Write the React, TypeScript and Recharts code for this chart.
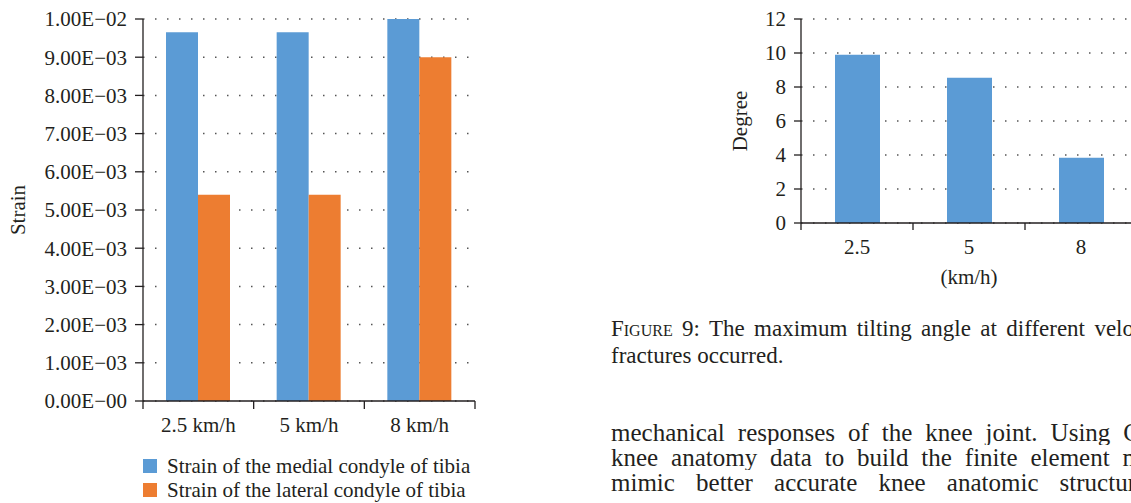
import React from 'react';
import { BarChart, Bar, XAxis, YAxis, CartesianGrid, Legend, Label } from 'recharts';

// ---------- data ----------
const strainCategories = ['2.5 km/h', '5 km/h', '8 km/h'];
const medialStrain = [9.65e-3, 9.65e-3, 1.0e-2];
const lateralStrain = [5.4e-3, 5.4e-3, 9.0e-3];
const strainSeriesNames = ['Strain of the medial condyle of tibia', 'Strain of the lateral condyle of tibia'];
const strainTicks = [0, 0.001, 0.002, 0.003, 0.004, 0.005, 0.006, 0.007, 0.008, 0.009, 0.01];

const angleCategories = ['2.5', '5', '8'];
const tiltAngle = [9.89, 8.54, 3.84];
const angleTicks = [0, 2, 4, 6, 8, 10, 12];

const captionLines = [
  'The maximum tilting angle at different velo',
  'fractures occurred.',
];
const bodyLines = [
  'mechanical responses of the knee joint. Using C',
  'knee anatomy data to build the finite element m',
  'mimic better accurate knee anatomic structur',
];

// ---------- styles ----------
const FONT = "'Liberation Serif', 'Times New Roman', serif";
const INK = '#231f20';
const BLUE = '#5b9bd5';
const ORANGE = '#ed7d31';
const GRID = '#555555';

const strainData = strainCategories.map((c, i) => ({
  cat: c,
  medial: medialStrain[i],
  lateral: lateralStrain[i],
}));
const angleData = angleCategories.map((c, i) => ({ cat: c, angle: tiltAngle[i] }));

const fmtStrain = (v: number) => {
  const [m, e] = v.toExponential(2).split('e');
  const n = Math.abs(parseInt(e, 10));
  return `${m}E\u2212${String(n).padStart(2, '0')}`;
};

const makeBoundaryTick = (tickLen: number, gap: number, count: number, fallbackHalf: number) => (props: any) => {
  const { x, y, payload, index } = props;
  const half = payload && typeof payload.offset === 'number' && payload.offset > 0 ? payload.offset : fallbackHalf;
  const axisY = y - gap;
  const last = index === count - 1;
  return (
    <g>
      <line x1={x - half} x2={x - half} y1={axisY} y2={axisY + tickLen} stroke={INK} strokeWidth={1.3} />
      {last && <line x1={x + half} x2={x + half} y1={axisY} y2={axisY + tickLen} stroke={INK} strokeWidth={1.3} />}
      <text x={x} y={y} dy="0.71em" textAnchor="middle" fill={INK} fontSize={21} fontFamily={FONT}>
        {payload.value}
      </text>
    </g>
  );
};

const renderStrainLegend = (props: any) => {
  const payload: any[] = props.payload || [];
  const ordered = strainSeriesNames
    .map((name) => payload.find((p: any) => p.value === name))
    .filter(Boolean);
  return (
    <div style={{ paddingLeft: 143, height: 48, fontFamily: FONT, fontSize: 21, color: INK }}>
      {ordered.map((p: any, i: number) => (
        <div key={i} style={{ display: 'flex', alignItems: 'center', height: 24, lineHeight: '24px', whiteSpace: 'nowrap' }}>
          <span style={{ display: 'inline-block', width: 14, height: 14, background: p.color, marginRight: 10 }} />
          <span>{p.value}</span>
        </div>
      ))}
    </div>
  );
};

const axisLineStyle = { stroke: INK, strokeWidth: 1.3 };

function StrainChart() {
  return (
    <BarChart
      width={490}
      height={503}
      data={strainData}
      margin={{ top: 19, right: 15, bottom: 1, left: 0 }}
      barGap={0}
      barSize={32}
    >
      <CartesianGrid vertical={false} stroke={GRID} strokeWidth={1.5} strokeDasharray="1.5 10.5" />
      <XAxis
        dataKey="cat"
        height={53}
        tickLine={false}
        tickSize={0}
        tickMargin={16}
        axisLine={axisLineStyle}
        interval={0}
        tick={makeBoundaryTick(8, 16, strainCategories.length, 55.3)}
      />
      <YAxis
        type="number"
        domain={[0, 0.01]}
        ticks={strainTicks}
        interval={0}
        tickFormatter={fmtStrain}
        width={143}
        tickSize={8}
        tickMargin={8}
        axisLine={axisLineStyle}
        tickLine={{ stroke: INK, strokeWidth: 1.3 }}
        tick={{ fill: INK, fontSize: 21, fontFamily: FONT }}
      >
        <Label
          content={(p: any) => {
            const vb = p.viewBox || { x: 0, y: 19, width: 143, height: 382 };
            const cx = vb.x + 25;
            const cy = vb.y + vb.height / 2;
            return (
              <text x={cx} y={cy} transform={`rotate(-90 ${cx} ${cy})`} textAnchor="middle" fill={INK} fontSize={21} fontFamily={FONT}>
                Strain
              </text>
            );
          }}
        />
      </YAxis>
      <Legend
        verticalAlign="bottom"
        align="left"
        layout="horizontal"
        wrapperStyle={{ left: 0, width: 490, height: 48 }}
        content={renderStrainLegend}
      />
      <Bar dataKey="medial" name={strainSeriesNames[0]} fill={BLUE} isAnimationActive={false} />
      <Bar dataKey="lateral" name={strainSeriesNames[1]} fill={ORANGE} isAnimationActive={false} />
    </BarChart>
  );
}

function AngleChart() {
  return (
    <BarChart
      width={437}
      height={300}
      data={angleData}
      margin={{ top: 19, right: 0, bottom: 0, left: 0 }}
      barSize={45}
    >
      <CartesianGrid vertical={false} stroke={GRID} strokeWidth={1.5} strokeDasharray="1.5 10.5" />
      <XAxis
        dataKey="cat"
        height={77}
        tickLine={false}
        tickSize={0}
        tickMargin={16}
        axisLine={axisLineStyle}
        interval={0}
        tick={makeBoundaryTick(7, 16, angleCategories.length, 56)}
      >
        <Label
          content={(p: any) => {
            const vb = p.viewBox || { x: 101, y: 223, width: 336, height: 77 };
            const cx = vb.x + vb.width / 2;
            return (
              <text x={cx} y={vb.y + 61} textAnchor="middle" fill={INK} fontSize={21} fontFamily={FONT}>
                (km/h)
              </text>
            );
          }}
        />
      </XAxis>
      <YAxis
        type="number"
        domain={[0, 12]}
        ticks={angleTicks}
        interval={0}
        width={101}
        tickSize={7}
        tickMargin={8}
        axisLine={axisLineStyle}
        tickLine={{ stroke: INK, strokeWidth: 1.3 }}
        tick={{ fill: INK, fontSize: 21, fontFamily: FONT }}
      >
        <Label
          content={(p: any) => {
            const vb = p.viewBox || { x: 0, y: 19, width: 101, height: 204 };
            const cx = vb.x + 46.5;
            const cy = vb.y + vb.height / 2;
            return (
              <text x={cx} y={cy} transform={`rotate(-90 ${cx} ${cy})`} textAnchor="middle" fill={INK} fontSize={21} fontFamily={FONT}>
                Degree
              </text>
            );
          }}
        />
      </YAxis>
      <Bar dataKey="angle" fill={BLUE} isAnimationActive={false} />
    </BarChart>
  );
}

const lineStyle = (top: number, width: number, fontSize: number, lineHeight: number): React.CSSProperties => ({
  position: 'absolute',
  left: 611,
  top,
  width,
  height: lineHeight,
  overflow: 'hidden',
  fontSize,
  lineHeight: `${lineHeight}px`,
  textAlign: 'justify',
  textAlignLast: 'justify' as any,
  fontFamily: FONT,
  color: INK,
});

export default function App() {
  return (
    <div
      style={{
        position: 'absolute',
        left: 0,
        top: 0,
        width: 1131,
        height: 503,
        overflow: 'hidden',
        background: '#fff',
        fontFamily: FONT,
        color: INK,
      }}
    >
      <div style={{ position: 'absolute', left: 0, top: 0 }}>
        <StrainChart />
      </div>
      <div style={{ position: 'absolute', left: 700, top: 0 }}>
        <AngleChart />
      </div>
      <div style={lineStyle(315, 523, 23, 27)}>
        <span style={{ fontVariant: 'small-caps' }}>Figure</span> 9: {captionLines[0]}
      </div>
      <div style={{ ...lineStyle(342, 400, 23, 27), textAlign: 'left', textAlignLast: 'left' as any }}>{captionLines[1]}</div>
      <div style={lineStyle(420, 529, 25, 25)}>{bodyLines[0]}</div>
      <div style={lineStyle(445, 531, 25, 25)}>{bodyLines[1]}</div>
      <div style={lineStyle(470, 525, 25, 25)}>{bodyLines[2]}</div>
    </div>
  );
}
